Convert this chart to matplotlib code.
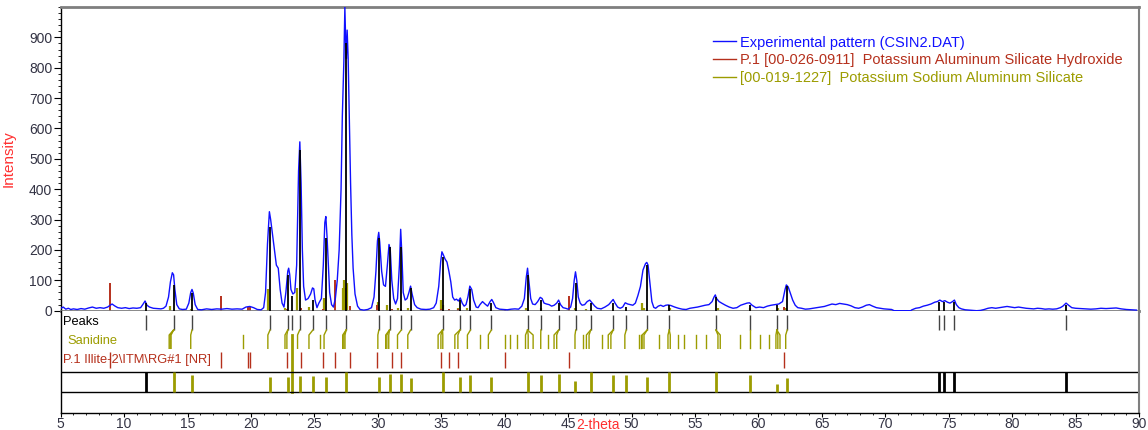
import numpy as np
import matplotlib.pyplot as plt
from matplotlib.ticker import MultipleLocator

plt.rcParams['font.family'] = ['Liberation Sans', 'DejaVu Sans']

# --- experimental pattern ---
two_theta = [
    5.0, 5.2, 5.4, 5.6, 5.8, 6.0, 6.3, 6.6, 6.9, 7.2, 7.5, 7.8, 8.1, 8.4, 8.7, 8.9, 9.05, 9.25,
    9.5, 9.8, 10.1, 10.4, 10.7, 11.0, 11.3, 11.5, 11.65, 11.8, 12.0, 12.3, 12.6, 12.9, 13.1,
    13.3, 13.5, 13.65, 13.8, 13.9, 14.0, 14.15, 14.35, 14.6, 14.9, 15.1, 15.25, 15.35, 15.45,
    15.6, 15.8, 16.1, 16.5, 16.9, 17.3, 17.7, 18.1, 18.5, 18.9, 19.3, 19.6, 19.9, 20.2, 20.5,
    20.8, 21.0, 21.15, 21.3, 21.45, 21.55, 21.7, 21.85, 22.0, 22.15, 22.3, 22.45, 22.6, 22.75,
    22.9, 22.97, 23.05, 23.15, 23.3, 23.45, 23.6, 23.75, 23.85, 23.95, 24.05, 24.15, 24.3,
    24.5, 24.7, 24.85, 24.95, 25.05, 25.2, 25.35, 25.55, 25.7, 25.82, 25.9, 26.0, 26.1, 26.2,
    26.35, 26.5, 26.65, 26.8, 26.95, 27.1, 27.2, 27.32, 27.4, 27.47, 27.52, 27.58, 27.66,
    27.75, 27.85, 27.95, 28.05, 28.2, 28.4, 28.6, 28.9, 29.2, 29.5, 29.7, 29.85, 29.97, 30.07,
    30.15, 30.3, 30.45, 30.6, 30.75, 30.88, 30.98, 31.1, 31.25, 31.4, 31.55, 31.7, 31.8, 31.9,
    32.0, 32.15, 32.3, 32.45, 32.58, 32.7, 32.9, 33.1, 33.4, 33.8, 34.1, 34.4, 34.6, 34.8,
    34.95, 35.05, 35.15, 35.3, 35.45, 35.6, 35.75, 35.9, 36.05, 36.2, 36.35, 36.5, 36.65,
    36.8, 36.95, 37.1, 37.25, 37.4, 37.55, 37.75, 37.9, 38.05, 38.25, 38.45, 38.65, 38.85,
    38.98, 39.1, 39.3, 39.6, 39.9, 40.2, 40.5, 40.8, 41.1, 41.35, 41.55, 41.7, 41.8, 41.9,
    42.05, 42.2, 42.4, 42.6, 42.8, 42.95, 43.1, 43.3, 43.5, 43.7, 43.9, 44.1, 44.25, 44.4,
    44.6, 44.8, 45.0, 45.2, 45.35, 45.48, 45.58, 45.68, 45.8, 45.95, 46.1, 46.3, 46.5, 46.7,
    46.9, 47.1, 47.3, 47.6, 47.9, 48.2, 48.4, 48.55, 48.7, 48.9, 49.1, 49.3, 49.5, 49.7,
    49.9, 50.1, 50.3, 50.5, 50.7, 50.9, 51.1, 51.2, 51.3, 51.45, 51.6, 51.75, 51.9, 52.1,
    52.3, 52.5, 52.7, 52.9, 53.1, 53.4, 53.7, 54.0, 54.3, 54.6, 54.9, 55.2, 55.5, 55.8, 56.1,
    56.35, 56.5, 56.6, 56.7, 56.9, 57.1, 57.4, 57.7, 58.0, 58.3, 58.6, 58.9, 59.1, 59.3, 59.5,
    59.8, 60.1, 60.4, 60.7, 61.0, 61.3, 61.6, 61.9, 62.1, 62.2, 62.35, 62.5, 62.7, 62.9, 63.1,
    63.4, 63.7, 64.0, 64.3, 64.6, 64.9, 65.2, 65.5, 65.8, 66.1, 66.4, 66.7, 67.0, 67.3, 67.6,
    67.9, 68.2, 68.5, 68.75, 69.0, 69.3, 69.6, 69.9, 70.2, 70.5, 70.7, 71.0, 71.5, 72.0, 72.1,
    72.4, 72.7, 73.0, 73.3, 73.6, 73.9, 74.1, 74.3, 74.5, 74.7, 74.9, 75.1, 75.3, 75.45, 75.6,
    75.8, 76.0, 76.3, 76.6, 76.9, 77.2, 77.5, 77.8, 78.1, 78.4, 78.7, 79.0, 79.3, 79.6, 79.9,
    80.2, 80.5, 80.8, 81.1, 81.4, 81.7, 82.0, 82.3, 82.6, 82.9, 83.2, 83.5, 83.8, 84.0, 84.25,
    84.45, 84.7, 85.0, 85.4, 85.8, 86.2, 86.6, 87.0, 87.4, 87.8, 88.2, 88.6, 89.0, 89.4, 89.8,
]
intensity = [
    8, 12, 5, 8, 4, 6, 4, 7, 5, 9, 12, 8, 10, 8, 12, 18, 22, 16,
    10, 8, 10, 7, 9, 8, 10, 22, 32, 18, 12, 8, 7, 6, 8,
    15, 45, 95, 125, 118, 70, 20, 6, 4, 5, 25, 60, 70, 58,
    20, 4, 3, 6, 4, 6, 5, 7, 5, 6, 5, 12, 14, 10, 4,
    3, 10, 60, 220, 326, 300, 250, 200, 150, 140, 70, 25, 12, 60,
    130, 140, 120, 70, 55, 60, 150, 460, 556, 420, 200, 80, 35,
    40, 55, 75, 72, 35, 10, 25, 40, 150, 290, 310, 240, 150, 60,
    20, 12, 40, 100, 200, 400, 640, 820, 999, 880, 830, 924, 830,
    640, 420, 250, 140, 55, 15, 4, 2, 4, 10, 45, 130, 230, 258,
    225, 130, 85, 80, 150, 218, 200, 100, 40, 22, 40, 150, 268, 180,
    60, 35, 40, 60, 81, 55, 20, 10, 5, 4, 5, 10, 25, 80,
    160, 194, 185, 170, 160, 130, 95, 45, 35, 38, 32, 42, 25,
    15, 20, 45, 81, 70, 35, 12, 10, 20, 30, 22, 15, 30,
    37, 28, 10, 5, 4, 3, 5, 6, 5, 15, 40, 110, 140, 100,
    40, 22, 20, 30, 44, 40, 25, 22, 20, 15, 18, 25, 35, 20,
    10, 8, 5, 12, 40, 100, 128, 100, 45, 25, 18, 20, 30, 35,
    25, 15, 8, 6, 12, 20, 30, 37, 25, 12, 8, 12, 26, 22,
    20, 18, 25, 50, 80, 134, 155, 159, 150, 90, 30, 11, 8, 15,
    18, 14, 18, 19, 17, 12, 8, 5, 4, 8, 10, 12, 15, 18, 20,
    30, 45, 52, 40, 30, 25, 18, 12, 8, 10, 18, 22, 25, 26, 18,
    10, 12, 10, 15, 18, 20, 22, 30, 70, 85, 78, 60, 35, 18, 10,
    8, 5, 6, 8, 10, 12, 14, 18, 22, 20, 24, 22, 20, 16, 10,
    8, 12, 18, 20, 15, 10, 8, 6, 5, 4, 0, 0, 0, 0, 3,
    8, 10, 15, 18, 22, 28, 30, 35, 30, 33, 28, 25, 30, 35, 20,
    10, 6, 3, 2, 1, 0, 1, 4, 8, 10, 8, 10, 12, 14, 12,
    10, 12, 10, 8, 7, 6, 8, 7, 5, 6, 5, 6, 10, 15, 25,
    18, 10, 8, 7, 6, 5, 6, 8, 7, 8, 9, 6, 4, 3, 2,
]

# --- peak list (black) ---
peak_pos = [11.72, 13.9, 15.35, 21.5, 22.9, 23.22, 23.84, 24.88, 25.95, 27.5, 30.08, 30.92,
            31.85, 32.58, 35.1, 36.47, 37.3, 38.95, 41.8, 42.85, 44.25, 45.6, 46.78, 48.55,
            49.58, 51.23, 52.97, 56.65, 59.3, 61.45, 62.27, 74.22, 74.62, 75.45, 84.23]
peak_height = [25, 85, 57, 277, 117, 50, 529, 35, 238, 880, 238, 211,
               211, 75, 178, 35, 71, 25, 117, 35, 25, 90, 25, 25,
               13, 150, 19, 46, 19, 20, 80, 30, 30, 30, 20]

# --- P.1 Illite reference (red) ---
illite_pos = [8.85, 17.67, 19.77, 19.89, 22.83, 23.94, 25.67, 26.6, 27.77, 29.93, 31.13,
              31.82, 34.96, 35.62, 36.34, 40.06, 45.1, 62.05]
illite_height = [92, 49, 12, 12, 5, 8, 5, 101, 15, 19, 5,
                 5, 5, 5, 5, 3, 49, 12]

# --- Sanidine reference (olive) in the pattern ---
sanidine_stick_pos = [13.63, 15.25, 19.38, 21.33, 22.68, 23.6, 24.57, 25.76, 27.23, 27.32,
                      27.41, 27.55, 30.0, 30.71, 31.55, 32.36, 34.97, 35.12, 36.31, 37.06,
                      41.64, 42.84, 45.54, 46.44, 50.83, 50.98, 53.05, 56.81, 59.3, 61.53, 62.15]
sanidine_stick_height = [15, 5, 3, 70, 10, 74, 12, 42, 74, 101,
                         74, 90, 30, 20, 10, 8, 35, 20, 10, 8,
                         8, 8, 10, 5, 26, 10, 8, 8, 8, 8, 10]

# --- Sanidine tick row ---
sanidine_pos = [13.55, 13.63, 13.7, 15.25, 19.38, 21.33, 22.68, 22.83, 23.67, 24.57, 25.46,
                25.76, 27.23, 27.32, 27.41, 30.0, 30.62, 30.71, 30.86, 31.55, 32.36, 34.75,
                34.97, 35.12, 36.07, 36.31, 37.06, 38.05, 38.71, 40.0, 40.45, 40.96, 41.64,
                41.85, 42.24, 42.84, 43.44, 43.89, 44.1, 45.54, 46.14, 46.44, 46.65, 47.69,
                48.16, 48.37, 49.47, 50.59, 50.74, 50.83, 50.98, 52.16, 52.87, 53.05, 53.64,
                54.15, 55.04, 55.87, 56.81, 56.99, 58.58, 59.3, 60.13, 60.87, 61.38, 61.53,
                61.7, 62.15]
marker_pos = 23.2

# --- match bars in the lower box ---
match_pos = [13.9, 15.35, 21.5, 22.9, 23.84, 24.88, 25.95, 27.5, 30.08, 30.92, 31.85, 32.58,
             35.1, 36.47, 37.3, 38.95, 41.8, 42.85, 44.25, 45.55, 46.78, 48.55, 49.58, 51.23,
             52.97, 56.65, 59.3, 61.45, 62.27]
match_frac = [1.0, 0.85, 0.75, 0.75, 0.8, 0.8, 0.75, 1.0, 0.75, 0.9, 0.9, 0.7,
              1.0, 0.75, 0.85, 0.75, 1.0, 0.85, 0.9, 0.55, 1.0, 0.85, 0.85, 0.75,
              1.0, 1.0, 0.85, 0.4, 0.7]
unmatched_pos = [11.72, 74.22, 74.62, 75.45, 84.23]

BLUE = '#1010ff'
RED = '#b5301c'
OLIVE = '#9c9c00'
GREY = '#7f7f7f'

W, H = 1148, 430
fig = plt.figure(figsize=(W / 100, H / 100), dpi=100)
x0, x1 = 60.7 / W, 1139 / W
y_top, y_mid, y_bot = 1 - 7 / H, 1 - 310.7 / H, 1 - 413 / H
ax = fig.add_axes([x0, y_mid, x1 - x0, y_top - y_mid])
ax2 = fig.add_axes([x0, y_bot, x1 - x0, y_mid - y_bot], sharex=ax)

# main pattern
ax.vlines(sanidine_stick_pos, 0, sanidine_stick_height, color=OLIVE, lw=1.6, zorder=2)
ax.vlines(illite_pos, 0, illite_height, color=RED, lw=1.4, zorder=2)
ax.plot(two_theta, intensity, color=BLUE, lw=1.0, zorder=3,
        label='Experimental pattern (CSIN2.DAT)')
ax.vlines(peak_pos, 0, peak_height, color='black', lw=1.3, zorder=4)

ax.set_xlim(5, 90)
ax.set_ylim(0, 1000)
ax.yaxis.set_minor_locator(MultipleLocator(20))
ax.set_yticks(range(0, 1000, 100))
ax.tick_params(axis='y', which='major', length=5, labelsize=10, labelcolor='#333344', pad=1)
ax.tick_params(axis='y', which='minor', length=2.5)
ax.tick_params(axis='x', which='both', bottom=False, labelbottom=False)
ax.set_ylabel('Intensity', color='#ff3030', fontsize=11)
ax.yaxis.set_label_coords(-0.0415, 0.5)

for side in ['top', 'bottom']:
    ax.spines[side].set_color(GREY)
    ax.spines[side].set_linewidth(2)
ax.spines['right'].set_color(GREY)
ax.spines['right'].set_linewidth(1.5)
ax.spines['left'].set_linewidth(1)

# legend
h_exp = plt.Line2D([], [], color=BLUE, lw=1)
h_ill = plt.Line2D([], [], color=RED, lw=1)
h_san = plt.Line2D([], [], color=OLIVE, lw=1)
leg = ax.legend([h_exp, h_ill, h_san],
                ['Experimental pattern (CSIN2.DAT)',
                 'P.1 [00-026-0911]  Potassium Aluminum Silicate Hydroxide',
                 '[00-019-1227]  Potassium Sodium Aluminum Silicate'],
                loc='upper left', bbox_to_anchor=(0.605, 0.906), frameon=False,
                fontsize=10.5, handlelength=1.6, handletextpad=0.25, labelspacing=0.25,
                borderpad=0, borderaxespad=0)
for txt, c in zip(leg.get_texts(), [BLUE, RED, OLIVE]):
    txt.set_color(c)

# lower panel (y measured downwards in pixels from the zero line)
ax2.set_ylim(102.3, 0)
peaks_row = (4.3, 19.3)
san_row = (19.3, 24.3, 37.6)
ill_row = (41.0, 57.6)
box1 = (61.0, 81.6)

ax2.vlines(peak_pos, *peaks_row, color='#444444', lw=1)
for p in sanidine_pos:
    near = [q for q in peak_pos if abs(q - p) < 0.45]
    if near:
        q = min(near, key=lambda v: abs(v - p))
        ax2.plot([q, p, p], [san_row[0], san_row[1], san_row[2]], color=OLIVE, lw=1)
    else:
        ax2.plot([p, p], [san_row[1], san_row[2]], color=OLIVE, lw=1)
ax2.plot([marker_pos, marker_pos], [san_row[1], box1[1]], color=OLIVE, lw=2)
ax2.vlines(illite_pos, *ill_row, color=RED, lw=1)

ax2.axhline(box1[0], color='black', lw=1)
ax2.axhline(box1[1], color='black', lw=1)
for p, f in zip(match_pos, match_frac):
    ax2.plot([p, p], [box1[1], box1[1] - f * (box1[1] - box1[0])], color=OLIVE, lw=2,
             solid_capstyle='butt')
ax2.vlines(unmatched_pos, *box1, color='black', lw=2)

ax2.text(5.2, 11.5, 'Peaks', fontsize=9.3, va='center', color='black')
ax2.text(5.5, 30.5, 'Sanidine', fontsize=9.3, va='center', color=OLIVE)
ax2.text(5.2, 49.5, 'P.1 Illite-2\\ITM\\RG#1 [NR]', fontsize=9.3, va='center', color=RED)

ax2.set_yticks([])
ax2.xaxis.set_major_locator(MultipleLocator(5))
ax2.xaxis.set_minor_locator(MultipleLocator(1))
ax2.tick_params(axis='x', which='major', length=3, labelsize=10, labelcolor='#333344', pad=0)
ax2.tick_params(axis='x', which='minor', length=1.5)
ax2.spines['top'].set_visible(False)
ax2.spines['right'].set_color(GREY)
ax2.spines['right'].set_linewidth(1.5)
ax2.spines['left'].set_linewidth(1)
ax2.spines['bottom'].set_linewidth(1)

fig.text(598 / W, 1 - 425 / H, '2-theta', color='#ff3030', fontsize=10, ha='center', va='center')

fig.savefig('out.png', dpi=100)
